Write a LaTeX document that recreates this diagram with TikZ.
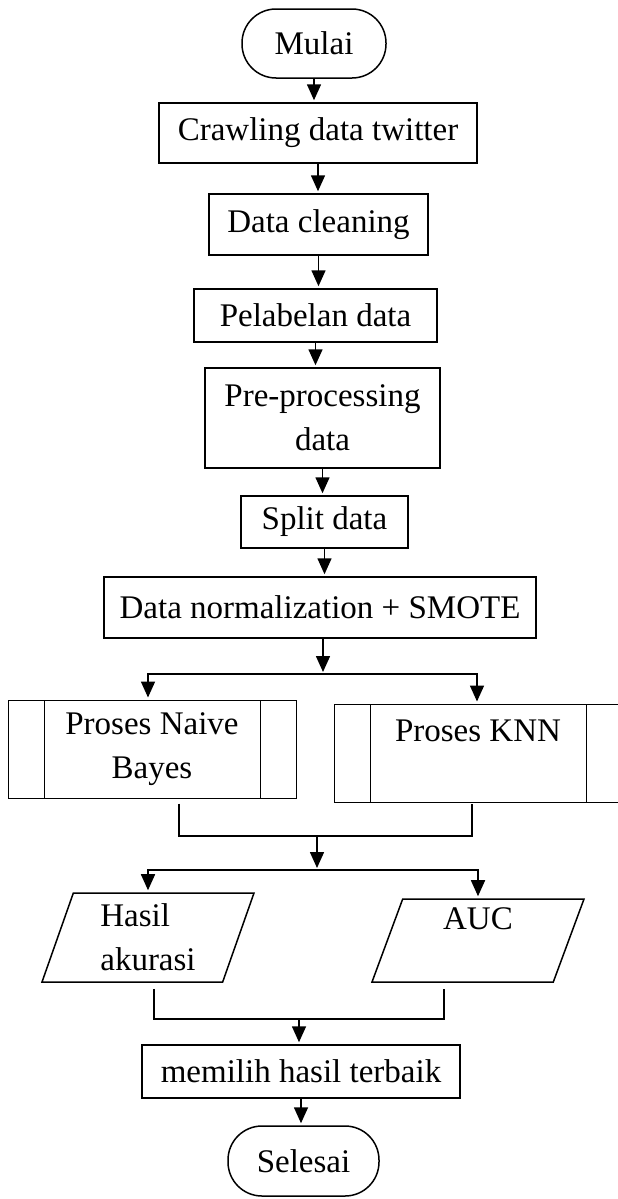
\documentclass[tikz,border=0pt]{standalone}
\usepackage{fontspec}
\setmainfont{Liberation Serif}
\usetikzlibrary{arrows.meta,shapes.geometric}

\tikzset{
    proses/.style={draw, line width=0.75pt, inner sep=0pt, align=center},
    terminal/.style={proses, rounded corners=17pt},
    subproses/.style={
        draw, line width=0.5pt, inner sep=0pt, align=center,
        minimum width=144pt, minimum height=49pt,
        path picture={
            \draw[line width=0.5pt] ([xshift=18pt]path picture bounding box.north west) -- ([xshift=18pt]path picture bounding box.south west);
            \draw[line width=0.5pt] ([xshift=-18pt]path picture bounding box.north east) -- ([xshift=-18pt]path picture bounding box.south east);
        }
    },
    datain/.style={
        draw, line width=0.75pt, trapezium, trapezium left angle=65,
        trapezium right angle=115, trapezium stretches body,
        inner sep=0pt, minimum width=106pt, align=left
    },
    garis/.style={line width=0.8pt},
    panah/.style={garis, -{Triangle[width=7pt,length=8pt]}, shorten >=1pt}
}

\begin{document}
\begin{tikzpicture}[x=0.5pt, y=-0.5pt, font=\fontsize{16.5}{22}\selectfont]
\useasboundingbox (0,0) rectangle (617,1199);

\node[terminal, minimum width=72pt, minimum height=34.5pt] (mulai) at (314,43.5) {Mulai};
\node[proses, minimum width=159pt, minimum height=30pt] (crawling) at (318,133) {Crawling data twitter};
\node[proses, minimum width=109.5pt, minimum height=30.5pt] (cleaning) at (318.5,224.5) {Data cleaning};
\node[proses, minimum width=121.5pt, minimum height=26.5pt] (pelabelan) at (315.5,315.5) {Pelabelan data};
\node[proses, minimum width=117.5pt, minimum height=50pt] (prepro) at (322.5,418) {Pre-processing\\data};
\node[proses, minimum width=83.5pt, minimum height=26pt] (split) at (324.5,522) {Split data};
\node[proses, minimum width=216pt, minimum height=30.5pt] (normal) at (320,607.5) {Data normalization + SMOTE};

\node[subproses] (naive) at (152,749) {Proses Naive\\Bayes};
\node[subproses] (knn) at (478,753) {Proses KNN\\\mbox{}};

\node[datain, minimum height=44.5pt] (akurasi) at (148,937.5) {Hasil\\akurasi};
\node[datain, minimum height=41.5pt] (auc) at (478,940.5) {AUC\\\mbox{}};

\node[proses, minimum width=159pt, minimum height=26.5pt] (memilih) at (301,1071.5) {memilih hasil terbaik};
\node[terminal, minimum width=75.5pt, minimum height=35pt] (selesai) at (303.5,1161) {Selesai};

\draw[panah] (mulai) -- (mulai |- crawling.north);
\draw[panah] (crawling) -- (crawling |- cleaning.north);
\draw[panah] (cleaning) -- (cleaning |- pelabelan.north);
\draw[panah] (pelabelan) -- (pelabelan |- prepro.north);
\draw[panah] (prepro) -- (prepro |- split.north);
\draw[panah] (split) -- (split |- normal.north);

\coordinate (cabang1) at (323,674);
\draw[panah] (cabang1 |- normal.south) -- (cabang1);
\draw[panah] (cabang1) -| ([xshift=-2pt]naive.north);
\draw[panah] (cabang1) -| ([xshift=-0.5pt]knn.north);

\coordinate (gabung1) at (317,836);
\draw[garis] ([xshift=13.5pt,yshift=-2.5pt]naive.south) |- (gabung1) -| ([xshift=-3pt,yshift=-0.5pt]knn.south);
\coordinate (cabang2) at (317,870);
\draw[panah] (gabung1) -- (cabang2);
\draw[panah] (cabang2) -| (akurasi);
\draw[panah] (cabang2) -| (auc);

\coordinate (gabung2) at (299,1019);
\draw[garis] ([xshift=3pt,yshift=-3pt]akurasi.south) |- (gabung2) -| ([xshift=-17pt,yshift=-3pt]auc.south);
\draw[panah] (gabung2) -- (gabung2 |- memilih.north);
\draw[panah] (memilih) -- (memilih |- selesai.north);
\end{tikzpicture}
\end{document}
